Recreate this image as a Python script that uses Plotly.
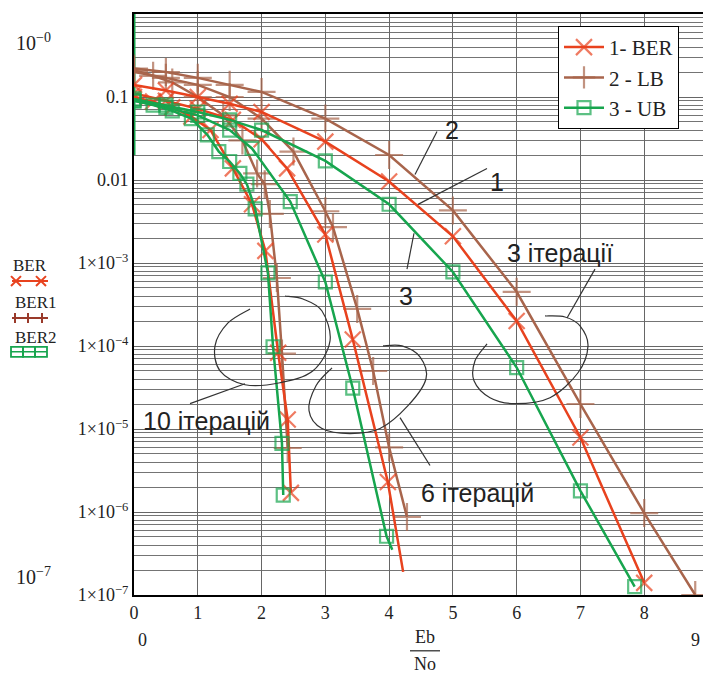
import plotly.graph_objects as go

# ---------------- data ----------------
# 3 iterations
BER3_X = [0, 0.5, 1, 1.5, 2, 3, 4, 5, 6, 7, 8]
BER3_Y = [0.14, 0.12, 0.1, 0.083, 0.066, 0.029, 0.0096, 0.0021, 2.0e-4, 7.9e-6, 1.4e-7]
LB3_X = [0, 0.5, 1, 1.5, 2, 3, 4, 5, 6, 7, 8, 8.8]
LB3_Y = [0.22, 0.2, 0.17, 0.14, 0.115, 0.055, 0.020, 0.0043, 4.5e-4, 2.0e-5, 9.7e-7, 1.0e-7]
UB3_X = [0, 0.5, 1, 1.5, 2, 3, 4, 5, 6, 7, 7.85]
UB3_Y = [0.095, 0.08, 0.066, 0.053, 0.04, 0.017, 0.0051, 7.8e-4, 5.5e-5, 1.8e-6, 1.26e-7]

# 6 iterations
BER6_X = [0, 0.5, 1, 1.55, 2, 2.4, 3, 3.43, 3.98, 4.22]
BER6_Y = [0.11, 0.09, 0.072, 0.053, 0.031, 0.0138, 0.0022, 1.2e-4, 2.3e-6, 1.9e-7]
LB6_X = [0, 0.5, 1, 1.5, 2, 2.5, 3.0, 3.12, 3.5, 3.75, 4.0, 4.28]
LB6_Y = [0.2, 0.17, 0.14, 0.1, 0.055, 0.022, 0.0042, 0.0027, 2.8e-4, 5e-5, 6e-6, 8.7e-7]
UB6_X = [0, 0.5, 1, 1.5, 1.85, 2.45, 3.0, 3.43, 3.96, 4.05]
UB6_Y = [0.09, 0.075, 0.06, 0.04, 0.024, 0.0055, 5.9e-4, 3.1e-5, 5.1e-7, 3.5e-7]

# 10 iterations
BER10_X = [0, 0.3, 0.6, 0.9, 1.2, 1.55, 1.85, 2.06, 2.26, 2.41, 2.46]
BER10_Y = [0.1, 0.088, 0.075, 0.058, 0.04, 0.0138, 0.0051, 1.4e-3, 8.3e-5, 1.3e-5, 1.7e-6]
LB10_X = [0, 0.3, 0.6, 1.0, 1.4, 1.7, 1.93, 2.05, 2.13, 2.24, 2.32, 2.41]
LB10_Y = [0.21, 0.18, 0.15, 0.1, 0.06, 0.03, 0.012, 0.0089, 0.0039, 6.6e-4, 8.1e-5, 5.9e-6]
UB10_X = [0, 0.3, 0.6, 0.9, 1.15, 1.33, 1.5, 1.66, 1.77, 1.9, 2.1, 2.18, 2.32, 2.34]
UB10_Y = [0.09, 0.08, 0.068, 0.055, 0.035, 0.022, 0.0167, 0.012, 0.0089, 0.0045, 7.6e-4, 9.8e-5, 6.7e-6, 1.6e-6]

# green segment drawn on the y axis
UB_AXIS_X = [0, 0]
UB_AXIS_Y = [1.0, 0.02]

Y_TICKS = [1, 0.1, 0.01, 1e-3, 1e-4, 1e-5, 1e-6, 1e-7]
Y_TICK_TEXT = ["1", "0.1", "0.01", "1×10<sup>−3</sup>", "1×10<sup>−4</sup>",
               "1×10<sup>−5</sup>", "1×10<sup>−6</sup>", "1×10<sup>−7</sup>"]
X_TICKS = [0, 1, 2, 3, 4, 5, 6, 7, 8, 9]

LEGEND_NAMES = ["1- BER", "2 - LB", "3 - UB"]

# ---------------- style ----------------
RED = "#e8421e"
BROWN = "#a8654c"
DARKRED = "#9a3a2a"
GREEN = "#17a54e"
INK = "#333333"
SERIF = "Liberation Serif, Times New Roman, serif"
SANS = "Liberation Sans, Arial, sans-serif"

W, H = 711, 675
OFF = 8  # page body margin of the html page
PL, PR, PT, PB = 134, 708, 12, 595  # plot area in page pixels


def px(x):
    return (x - PL) / (PR - PL)


def py(y):
    return (PB - y) / (PB - PT)


fig = go.Figure()


def add_curve(x, y, color, symbol, size, name, show, rank, no_end_marker=False):
    sizes = [size] * len(x)
    if no_end_marker:
        sizes[-1] = 0
    fig.add_trace(go.Scatter(
        x=x, y=y, mode="lines+markers", name=name, legendgroup=name,
        showlegend=show, legendrank=rank,
        line=dict(color=color, width=2.5),
        marker=dict(symbol=symbol, size=sizes, color=color,
                    line=dict(color=color, width=2.2)),
    ))


fig.add_trace(go.Scatter(x=UB_AXIS_X, y=UB_AXIS_Y, mode="lines",
                         line=dict(color=GREEN, width=3), showlegend=False,
                         hoverinfo="skip"))

# brown (LB)
add_curve(LB3_X, LB3_Y, BROWN, "cross-thin-open", 20, LEGEND_NAMES[1], True, 2)
add_curve(LB6_X, LB6_Y, BROWN, "cross-thin-open", 20, LEGEND_NAMES[1], False, 2)
add_curve(LB10_X, LB10_Y, BROWN, "cross-thin-open", 20, LEGEND_NAMES[1], False, 2)
# red (BER)
add_curve(BER3_X, BER3_Y, RED, "x-thin-open", 16, LEGEND_NAMES[0], True, 1)
add_curve(BER6_X, BER6_Y, RED, "x-thin-open", 16, LEGEND_NAMES[0], False, 1, True)
add_curve(BER10_X, BER10_Y, RED, "x-thin-open", 16, LEGEND_NAMES[0], False, 1)
# green (UB)
add_curve(UB3_X, UB3_Y, GREEN, "square-open", 13, LEGEND_NAMES[2], True, 3)
add_curve(UB6_X, UB6_Y, GREEN, "square-open", 13, LEGEND_NAMES[2], False, 3, True)
add_curve(UB10_X, UB10_Y, GREEN, "square-open", 13, LEGEND_NAMES[2], False, 3)

GRID = "#666666"
fig.update_xaxes(
    range=[0, 9], tickvals=X_TICKS, ticktext=[str(v) for v in X_TICKS],
    showgrid=True, gridcolor=GRID, gridwidth=1, zeroline=False,
    showline=True, linecolor="black", linewidth=2, mirror=True,
    ticks="", ticklabelstandoff=0,
    tickfont=dict(family=SERIF, size=18, color="#222"),
)
fig.update_yaxes(
    type="log", range=[-7, 0], tickmode="array", tickvals=Y_TICKS,
    ticktext=Y_TICK_TEXT, showgrid=True, gridcolor=GRID, gridwidth=1,
    minor=dict(showgrid=True, gridcolor="#747474", gridwidth=0.8, dtick="D1"),
    zeroline=False, showline=True, linecolor="black", linewidth=2, mirror=True,
    ticks="", ticklabelstandoff=0,
    tickfont=dict(family=SERIF, size=18, color="#222"),
)

annotations = []


def text(x, y, s, size, font=SANS, xanchor="center"):
    annotations.append(dict(xref="paper", yref="paper", x=px(x), y=py(y),
                            text=s, showarrow=False, xanchor=xanchor,
                            yanchor="middle",
                            font=dict(family=font, size=size, color="#222")))


# in-plot labels
text(452, 128, "2", 25)
text(497, 181, "1", 25)
text(406, 295, "3", 25)
text(560, 252, "3 ітерації", 25)
text(206, 420, "10 ітерацій", 25)
text(477, 493, "6 ітерацій", 25)

# outside labels
text(33, 40, "10<sup>−0</sup>", 20, SERIF)
text(33, 576, "10<sup>−7</sup>", 20, SERIF)
text(30, 264, "BER", 17, SERIF)
text(36, 301, "BER1", 17, SERIF)
text(36, 337, "BER2", 17, SERIF)
text(142, 640, "0", 18, SERIF)
text(695, 640, "9", 18, SERIF)
text(425, 637, "Eb", 18, SERIF)
text(425, 664, "No", 18, SERIF)

shapes = []


def seg(x0, y0, x1, y1, color=INK, width=1.2):
    shapes.append(dict(type="line", xref="paper", yref="paper",
                       x0=px(x0), y0=py(y0), x1=px(x1), y1=py(y1),
                       line=dict(color=color, width=width)))


def smooth(points, color=INK, width=1.2):
    pts = [(px(a), py(b)) for a, b in points]
    d = "M %.5f,%.5f" % pts[0]
    n = len(pts)
    for i in range(n - 1):
        p0 = pts[i - 1] if i > 0 else pts[i]
        p1 = pts[i]
        p2 = pts[i + 1]
        p3 = pts[i + 2] if i + 2 < n else pts[i + 1]
        c1 = (p1[0] + (p2[0] - p0[0]) / 6, p1[1] + (p2[1] - p0[1]) / 6)
        c2 = (p2[0] - (p3[0] - p1[0]) / 6, p2[1] - (p3[1] - p1[1]) / 6)
        d += " C %.5f,%.5f %.5f,%.5f %.5f,%.5f" % (c1 + c2 + p2)
    shapes.append(dict(type="path", xref="paper", yref="paper", path=d,
                       line=dict(color=color, width=width)))


# leader lines
seg(437, 130, 415, 173)
seg(487, 167, 418, 203)
seg(407, 268, 414, 232)
seg(190, 403, 245, 383)
seg(400, 417, 430, 465)
seg(567, 317, 595, 268)

# loops
smooth([(250, 308), (228, 322), (215, 345), (220, 370), (245, 384), (280, 382),
        (313, 370), (330, 340), (322, 310), (303, 298), (285, 295)])
smooth([(332, 367), (316, 385), (309, 410), (322, 428), (350, 433), (380, 428),
        (408, 405), (426, 378), (420, 356), (402, 345), (383, 345)])
smooth([(487, 343), (475, 360), (474, 380), (490, 397), (515, 403), (550, 397),
        (578, 372), (588, 345), (580, 325), (565, 316), (545, 315)])

# fraction bar
seg(410, 651, 440, 651, "#222", 1.2)

# mini legend on the left
seg(12, 280, 48, 280, RED, 2)
for cx in (16, 41):
    seg(cx - 5, 275, cx + 5, 285, RED, 2)
    seg(cx - 5, 285, cx + 5, 275, RED, 2)
seg(12, 317, 48, 317, DARKRED, 2)
for cx in (15, 28, 42):
    seg(cx, 312, cx, 322, DARKRED, 2)
seg(11, 351, 47, 351, GREEN, 1.5)
for cx in (17, 29, 41):
    shapes.append(dict(type="rect", xref="paper", yref="paper",
                       x0=px(cx - 6), x1=px(cx + 6), y0=py(346), y1=py(356),
                       line=dict(color=GREEN, width=1.8)))

fig.update_layout(
    width=W, height=H, autosize=False,
    margin=dict(l=PL - OFF, r=W - (PR - OFF), t=PT - OFF, b=H - (PB - OFF), pad=0),
    paper_bgcolor="white", plot_bgcolor="white",
    annotations=annotations, shapes=shapes,
    legend=dict(x=px(558), y=py(24), xanchor="left", yanchor="top",
                bgcolor="white", bordercolor="black", borderwidth=1,
                font=dict(family=SERIF, size=21, color="#222"),
                tracegroupgap=0, itemwidth=40),
    showlegend=True,
)

fig.write_html("out.html")
